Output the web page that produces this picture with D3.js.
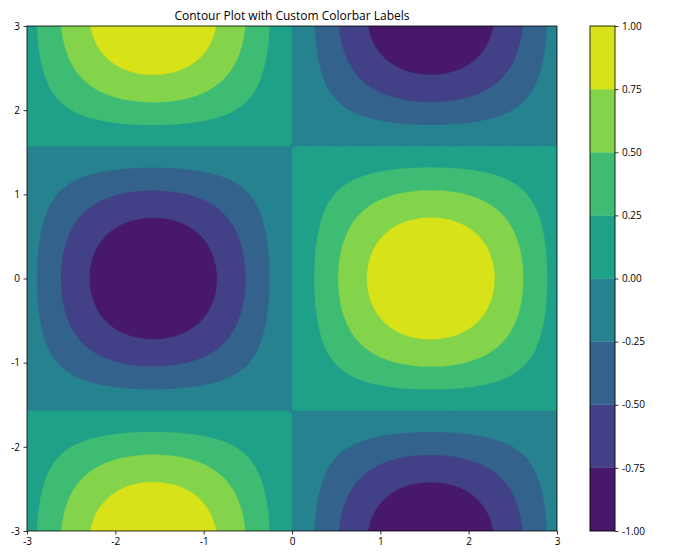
<!DOCTYPE html>
<html><head><meta charset="utf-8">
<script src="https://cdn.jsdelivr.net/npm/d3@7"></script>
<style>body{margin:0;background:#fff}svg{display:block}text{font-family:"Open Sans",sans-serif;fill:#000}</style>
</head><body>
<svg id="c" width="700" height="560"></svg>
<script>
// Data
const title = "Contour Plot with Custom Colorbar Labels";
const nGrid = 100;
const xRange = [-3, 3];
const yRange = [-3, 3];
const levels = [-1, -0.75, -0.5, -0.25, 0, 0.25, 0.5, 0.75, 1];
const levelLabels = ["-1.00", "-0.75", "-0.50", "-0.25", "0.00", "0.25", "0.50", "0.75", "1.00"];
const xTicks = [-3, -2, -1, 0, 1, 2, 3];
const yTicks = [-3, -2, -1, 0, 1, 2, 3];
const tickLabels = ["-3", "-2", "-1", "0", "1", "2", "3"];
const xs = d3.range(nGrid).map(i => xRange[0] + (xRange[1] - xRange[0]) * i / (nGrid - 1));
const ys = d3.range(nGrid).map(j => yRange[0] + (yRange[1] - yRange[0]) * j / (nGrid - 1));
// Z = sin(X) * cos(Y)
const zValues = [];
for (let j = 0; j < nGrid; j++) for (let i = 0; i < nGrid; i++) zValues.push(Math.sin(xs[i]) * Math.cos(ys[j]));

const svg = d3.select("#c");
const m = {l: 27, r: 557, t: 26, b: 531};
const x = d3.scaleLinear().domain(xRange).range([m.l, m.r]);
const y = d3.scaleLinear().domain(yRange).range([m.b, m.t]);
const nBands = levels.length - 1;
const bandColor = k => d3.interpolateViridis((k + 0.5) / nBands);

svg.append("defs").append("clipPath").attr("id", "clip")
  .append("rect").attr("x", m.l).attr("y", m.t).attr("width", m.r - m.l).attr("height", m.b - m.t);

const gi = d3.scaleLinear().domain([0, nGrid - 1]).range(xRange);
const gj = d3.scaleLinear().domain([0, nGrid - 1]).range(yRange);
const proj = d3.geoTransform({point: function(px, py) {
  this.stream.point(x(gi(px - 0.5)), y(gj(py - 0.5)));
}});
const path = d3.geoPath(proj);

const g = svg.append("g").attr("clip-path", "url(#clip)");
g.append("rect").attr("x", m.l).attr("y", m.t).attr("width", m.r - m.l).attr("height", m.b - m.t)
  .attr("fill", bandColor(0));
const contours = d3.contours().size([nGrid, nGrid]).thresholds(levels.slice(1, -1))(zValues);
g.selectAll("path.band").data(contours).join("path").attr("class", "band")
  .attr("d", path)
  .attr("fill", (d, k) => bandColor(k + 1))
  .attr("stroke", (d, k) => bandColor(k + 1)).attr("stroke-width", 0.3);

// Axes
const fmtTick = d => tickLabels[xTicks.indexOf(d)];
const xAxis = svg.append("g").attr("transform", `translate(0,${m.b})`)
  .call(d3.axisBottom(x).tickValues(xTicks).tickSize(3.5).tickPadding(3.5).tickFormat(fmtTick));
const yAxis = svg.append("g").attr("transform", `translate(${m.l},0)`)
  .call(d3.axisLeft(y).tickValues(yTicks).tickSize(3.5).tickPadding(3.5).tickFormat(fmtTick));
[xAxis, yAxis].forEach(a => {
  a.select(".domain").remove();
  a.selectAll("line").attr("stroke", "#000").attr("stroke-width", 0.8);
  a.selectAll("text").attr("font-size", 10).attr("font-family", "Open Sans");
});
svg.append("rect").attr("x", m.l).attr("y", m.t).attr("width", m.r - m.l).attr("height", m.b - m.t)
  .attr("fill", "none").attr("stroke", "#000").attr("stroke-width", 0.8);

// Colorbar
const cb = {l: 590, r: 615, t: 26, b: 531};
const cy = d3.scaleLinear().domain([levels[0], levels[levels.length - 1]]).range([cb.b, cb.t]);
svg.append("g").selectAll("rect").data(d3.range(nBands)).join("rect")
  .attr("x", cb.l).attr("width", cb.r - cb.l)
  .attr("y", k => cy(levels[k + 1])).attr("height", k => cy(levels[k]) - cy(levels[k + 1]))
  .attr("fill", k => bandColor(k)).attr("stroke", k => bandColor(k)).attr("stroke-width", 0.3);
svg.append("rect").attr("x", cb.l).attr("y", cb.t).attr("width", cb.r - cb.l).attr("height", cb.b - cb.t)
  .attr("fill", "none").attr("stroke", "#000").attr("stroke-width", 0.8);
const cAxis = svg.append("g").attr("transform", `translate(${cb.r},0)`)
  .call(d3.axisRight(cy).tickValues(levels).tickSize(3.5).tickPadding(3.5).tickFormat((d, i) => levelLabels[i]));
cAxis.select(".domain").remove();
cAxis.selectAll("line").attr("stroke", "#000").attr("stroke-width", 0.8);
cAxis.selectAll("text").attr("font-size", 10).attr("font-family", "Open Sans");

svg.append("text").attr("x", (m.l + m.r) / 2).attr("y", 20).attr("text-anchor", "middle")
  .attr("font-size", 12).text(title);
</script>
</body></html>
